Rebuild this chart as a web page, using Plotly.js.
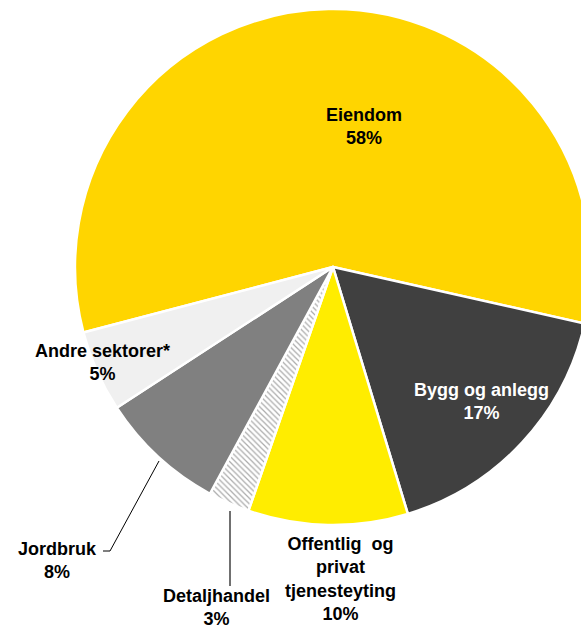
<!DOCTYPE html>
<html>
<head>
<meta charset="utf-8">
<script src="https://cdn.plot.ly/plotly-3.0.1.min.js"></script>
<style>
html,body{margin:0;padding:0;overflow:hidden;background:#fff;}
#chart{width:640px;height:630px;}
</style>
</head>
<body>
<div id="chart"></div>
<script>
// Data
var categories = ['Eiendom', 'Bygg og anlegg', 'Offentlig og privat tjenesteyting', 'Detaljhandel', 'Jordbruk', 'Andre sektorer*'];
var displayLabels = ['Eiendom', 'Bygg og anlegg', 'Offentlig  og<br>privat<br>tjenesteyting', 'Detaljhandel', 'Jordbruk', 'Andre sektorer*'];
var values = [57.6, 16.8, 10.0, 2.6, 7.9, 5.1];
var colors = ['#FFD500', '#404040', '#FFED00', '#FFFFFF', '#808080', '#F0F0F0'];
var patterns = ['', '', '', '\\', '', ''];

var W = 640, H = 630;
function px(x){ return x / W; }
function py(y){ return 1 - y / H; }

var total = values.reduce(function(a,b){return a+b;}, 0);
var pct = values.map(function(v){ return Math.round(v / total * 100) + '%'; });

// label placement (pixel centres) and text colours
var labelPos = [[364, 127], [481, 402], [340, 579], [216, 607], [57, 560], [102, 362]];
var labelColor = ['#000000', '#FFFFFF', '#000000', '#000000', '#000000', '#000000'];

var annotations = categories.map(function(c, i){
  return {
    xref: 'paper', yref: 'paper',
    x: px(labelPos[i][0]), y: py(labelPos[i][1]),
    xanchor: 'center', yanchor: 'middle',
    text: displayLabels[i] + '<br>' + pct[i],
    showarrow: false,
    align: 'center',
    font: {family: 'Liberation Sans, Arial, sans-serif', size: 18, color: labelColor[i], weight: 'bold'}
  };
});

var shapes = [
  {type: 'line', xref: 'paper', yref: 'paper', x0: px(230), y0: py(511), x1: px(230), y1: py(586), line: {color: '#404040', width: 1.5}},
  {type: 'path', xref: 'paper', yref: 'paper',
   path: 'M ' + px(159) + ' ' + py(461) + ' L ' + px(110) + ' ' + py(551) + ' L ' + px(103) + ' ' + py(551),
   line: {color: '#000000', width: 1}}
];

var trace = {
  type: 'pie',
  labels: categories,
  values: values,
  sort: false,
  direction: 'clockwise',
  rotation: 255.3,
  textinfo: 'none',
  hoverinfo: 'label+percent',
  showlegend: false,
  domain: {x: [px(75), px(591)], y: [py(525), py(9)]},
  marker: {
    colors: colors,
    line: {color: '#FFFFFF', width: 2.5},
    pattern: {shape: patterns, fgcolor: '#ABABAB', bgcolor: colors, size: 4, solidity: 0.3}
  }
};

var layout = {
  width: W, height: H,
  margin: {l: 0, r: 0, t: 0, b: 0},
  paper_bgcolor: '#FFFFFF',
  showlegend: false,
  annotations: annotations,
  shapes: shapes
};

Plotly.newPlot('chart', [trace], layout, {displayModeBar: false, staticPlot: true});
</script>
</body>
</html>
